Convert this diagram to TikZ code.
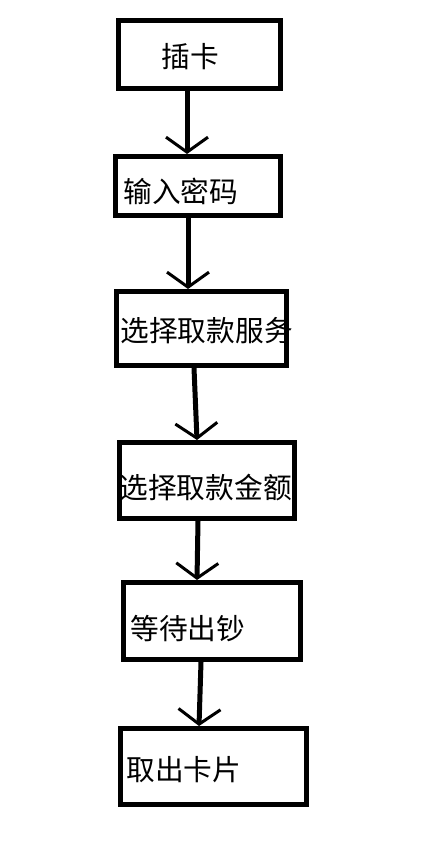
\documentclass[tikz,border=0pt]{standalone}
\usepackage{fontspec}
\newfontfamily\cjk{Noto Sans CJK SC}
\usetikzlibrary{arrows.meta}
\begin{document}
\begin{tikzpicture}[x=1pt,y=-1pt,
  flow box/.style={draw,line width=5pt,inner xsep=0pt,inner ysep=0pt,align=left,text depth=0pt,font=\cjk\fontsize{28.7}{28.7}\selectfont},
  flow arrow/.style={line width=5pt,-{Straight Barb[length=15pt,width=42pt,line width=3pt]}}]

  \useasboundingbox (0,0) rectangle (425,861);

  \node[flow box,text width=162pt,minimum height=68pt,text height=26pt] (card) at (199.5,54.5){\hspace*{43pt}插卡};
  \node[flow box,text width=165pt,minimum height=59pt,text height=33pt] (pin) at (198,186){\hspace*{8pt}输入密码};
  \node[flow box,text width=170pt,minimum height=74pt,text height=25pt] (service) at (201.5,328.5){\hspace*{4pt}选择取款服务};
  \node[flow box,text width=175pt,minimum height=76pt,text height=35pt] (amount) at (207,480.5){\hspace*{0pt}选择取款金额};
  \node[flow box,text width=177pt,minimum height=77pt,text height=37pt] (wait) at (212,621){\hspace*{7pt}等待出钞};
  \node[flow box,text width=186pt,minimum height=76pt,text height=27pt] (take) at (213.5,766.5){\hspace*{6pt}取出卡片};

  \draw[flow arrow] ([xshift=-12.5pt]card.south) -- ([xshift=-11pt]pin.north);
  \draw[flow arrow] ([xshift=-10pt]pin.south) -- ([xshift=-13.5pt]service.north);
  \draw[flow arrow] ([xshift=-7.5pt]service.south) -- ([xshift=-10pt]amount.north);
  \draw[flow arrow] ([xshift=-9pt]amount.south) -- ([xshift=-15pt]wait.north);
  \draw[flow arrow] ([xshift=-11pt]wait.south) -- ([xshift=-14.5pt]take.north);
\end{tikzpicture}
\end{document}
